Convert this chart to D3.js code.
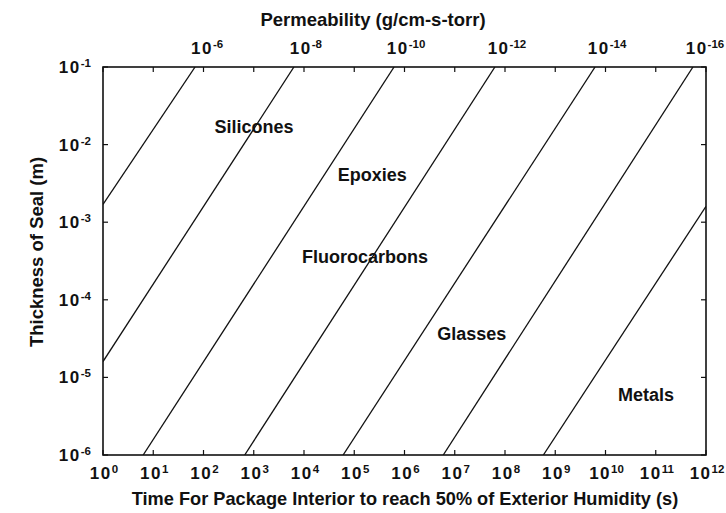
<!DOCTYPE html>
<html>
<head>
<meta charset="utf-8">
<script src="https://cdn.jsdelivr.net/npm/d3@7"></script>
<style>
  body { margin: 0; background: #fff; }
  text { font-family: "Liberation Sans", Arial, sans-serif; font-weight: bold; fill: #111; }
</style>
</head>
<body>
<div id="chart"></div>
<script>
// x axis: time (s), y axis: seal thickness (m)
const timeTicks = d3.range(0, 13).map(e => Math.pow(10, e));
const thickTicks = d3.range(-6, 0).map(e => Math.pow(10, e));

// each iso-permeability line, visible end points [time, thickness]
const lineStarts = [[1, 1.7e-3], [1, 1.6e-5], [6.3, 1e-6], [6.6e2, 1e-6], [6.0e4, 1e-6], [5.9e6, 1e-6], [5.8e8, 1e-6]];
const lineEnds = [[6.8e1, 1e-1], [6.3e3, 1e-1], [6.2e5, 1e-1], [6.3e7, 1e-1], [6.2e9, 1e-1], [5.5e11, 1e-1], [1e12, 1.6e-3]];

// permeability labels along the top, one per line
const permExponents = [-6, -8, -10, -12, -14, -16];

// material regions [name, time, thickness]
const materials = [
  ["Silicones", 10 ** 2.22, 10 ** -1.85],
  ["Epoxies", 10 ** 4.67, 10 ** -2.47],
  ["Fluorocarbons", 10 ** 3.96, 10 ** -3.53],
  ["Glasses", 10 ** 6.65, 10 ** -4.52],
  ["Metals", 10 ** 10.25, 10 ** -5.30]
];

const W = 726, H = 513;
const margin = { top: 67, right: 20, bottom: 58, left: 103 };

const svg = d3.select("#chart").append("svg")
  .attr("width", W).attr("height", H);

const x = d3.scaleLog().domain([1, 1e12]).range([margin.left, 706]);
const y = d3.scaleLog().domain([1e-6, 1e-1]).range([455, margin.top]);

// "10" with a raised exponent
function supLabel(sel, base, exp) {
  sel.append("tspan").style("font-size", "17px").style("letter-spacing", "1.5px").text(base);
  sel.append("tspan").style("font-size", "11.5px").attr("dy", -6).text(exp);
}

// clip for the lines
svg.append("clipPath").attr("id", "plotClip")
  .append("rect")
  .attr("x", x.range()[0]).attr("y", y.range()[1])
  .attr("width", x.range()[1] - x.range()[0])
  .attr("height", y.range()[0] - y.range()[1]);

// ticks (inward on all four sides)
const tickLen = 5;
const tg = svg.append("g").attr("stroke", "#111").attr("stroke-width", 1.2);
timeTicks.forEach(t => {
  tg.append("line").attr("x1", x(t)).attr("x2", x(t)).attr("y1", y.range()[0]).attr("y2", y.range()[0] - tickLen);
  tg.append("line").attr("x1", x(t)).attr("x2", x(t)).attr("y1", y.range()[1]).attr("y2", y.range()[1] + tickLen);
});
thickTicks.forEach(v => {
  tg.append("line").attr("y1", y(v)).attr("y2", y(v)).attr("x1", x.range()[0]).attr("x2", x.range()[0] + tickLen);
  tg.append("line").attr("y1", y(v)).attr("y2", y(v)).attr("x1", x.range()[1]).attr("x2", x.range()[1] - tickLen);
});

// frame
svg.append("rect")
  .attr("x", x.range()[0]).attr("y", y.range()[1])
  .attr("width", x.range()[1] - x.range()[0])
  .attr("height", y.range()[0] - y.range()[1])
  .attr("fill", "none").attr("stroke", "#111").attr("stroke-width", 1.6);

// iso-permeability lines
svg.append("g").attr("clip-path", "url(#plotClip)")
  .selectAll("line.perm")
  .data(lineStarts.map((s, i) => [s, lineEnds[i]]))
  .join("line")
  .attr("class", "perm")
  .attr("x1", d => x(d[0][0])).attr("y1", d => y(d[0][1]))
  .attr("x2", d => x(d[1][0])).attr("y2", d => y(d[1][1]))
  .attr("stroke", "#111").attr("stroke-width", 1.3);

// bottom tick labels
timeTicks.forEach((t, i) => {
  const lab = svg.append("text")
    .attr("x", x(t) + 1).attr("y", 479)
    .attr("text-anchor", "middle");
  supLabel(lab, "10", i);
});

// left tick labels
d3.range(-6, 0).forEach(e => {
  const lab = svg.append("text")
    .attr("x", 91).attr("y", y(10 ** e) + 6)
    .attr("text-anchor", "end");
  supLabel(lab, "10", "-" + Math.abs(e));
});

// top permeability labels, next to each line's top end
permExponents.forEach((e, i) => {
  const lab = svg.append("text")
    .attr("x", x(lineEnds[i][0]) + 12).attr("y", 54)
    .attr("text-anchor", "middle");
  supLabel(lab, "10", e);
});

// material labels
svg.selectAll("text.mat")
  .data(materials)
  .join("text")
  .attr("class", "mat")
  .attr("x", d => x(d[1])).attr("y", d => y(d[2]))
  .style("font-size", "18px")
  .text(d => d[0]);

// axis titles
svg.append("text")
  .attr("x", 373).attr("y", 26)
  .attr("text-anchor", "middle")
  .style("font-size", "18.5px")
  .text("Permeability (g/cm-s-torr)");

svg.append("text")
  .attr("x", 405).attr("y", 505)
  .attr("text-anchor", "middle")
  .style("font-size", "18.2px")
  .text("Time For Package Interior to reach 50% of Exterior Humidity (s)");

svg.append("text")
  .attr("transform", "translate(43,252) rotate(-90)")
  .attr("text-anchor", "middle")
  .style("font-size", "18.5px")
  .text("Thickness of Seal (m)");
</script>
</body>
</html>
